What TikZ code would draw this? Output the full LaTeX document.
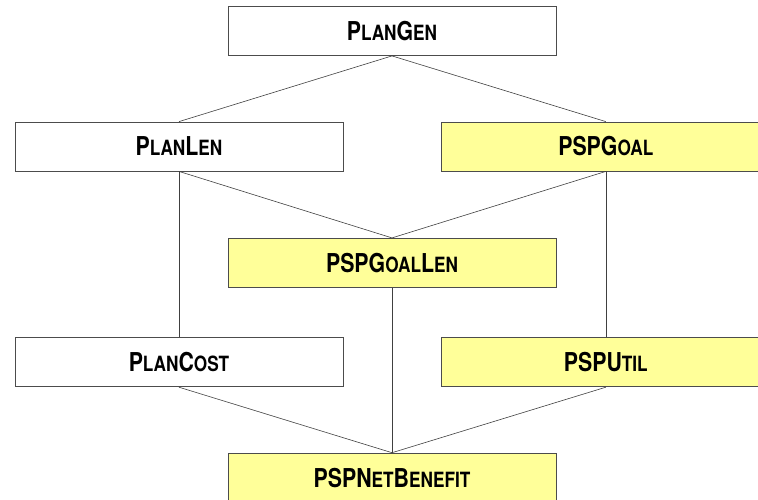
\documentclass[tikz,border=0pt]{standalone}
\usepackage{fontspec}
\usepackage{tikz}
\usetikzlibrary{positioning}

\newfontfamily\boxfont{TeX Gyre Heros}[FakeStretch=0.82]
\newcommand\smcap[1]{{\fontsize{21}{21}\selectfont #1}}
\definecolor{paleyellow}{RGB}{255,255,153}

\begin{document}
\begin{tikzpicture}[x=1pt, y=-1pt,
	box/.style={rectangle, draw=black!70, line width=0.8pt, minimum width=328pt, minimum height=49pt, inner sep=0pt, font={\boxfont\bfseries\fontsize{26}{26}\selectfont}},
	pspbox/.style={box, fill=paleyellow},
	link/.style={draw=black!75, line width=0.6pt}]
	\clip (0,0) rectangle (758,499);

		\node[box] (plangen) at (392,31) {P\smcap{LAN}G\smcap{EN}};

		\node[box] (planlen) at (179,146.5) {P\smcap{LAN}L\smcap{EN}};

		\node[pspbox, right=98pt of planlen] (pspgoal) {PSPG\smcap{OAL}};

		\node[pspbox, below=182pt of plangen] (pspgoallen) {PSPG\smcap{OAL}L\smcap{EN}};

		\node[box, below=166pt of planlen] (plancost) {P\smcap{LAN}C\smcap{OST}};

		\node[pspbox, below=166pt of pspgoal] (psputil) {PSPU\smcap{TIL}};

		\node[pspbox, below=165pt of pspgoallen] (pspnet) {PSPN\smcap{ET}B\smcap{ENEFIT}};

		\path [link] (plangen.south) -- (planlen.north);
		\path [link] (plangen.south) -- (pspgoal.north);
		\path [link] (planlen.south) -- (pspgoallen.north);
		\path [link] (pspgoal.south) -- (pspgoallen.north);
		\path [link] (planlen.south) -- (plancost.north);
		\path [link] (pspgoal.south) -- (psputil.north);
		\path [link] (pspgoallen.south) -- (pspnet.north);
		\path [link] (plancost.south) -- (pspnet.north);
		\path [link] (psputil.south) -- (pspnet.north);
	\end{tikzpicture}
\end{document}
